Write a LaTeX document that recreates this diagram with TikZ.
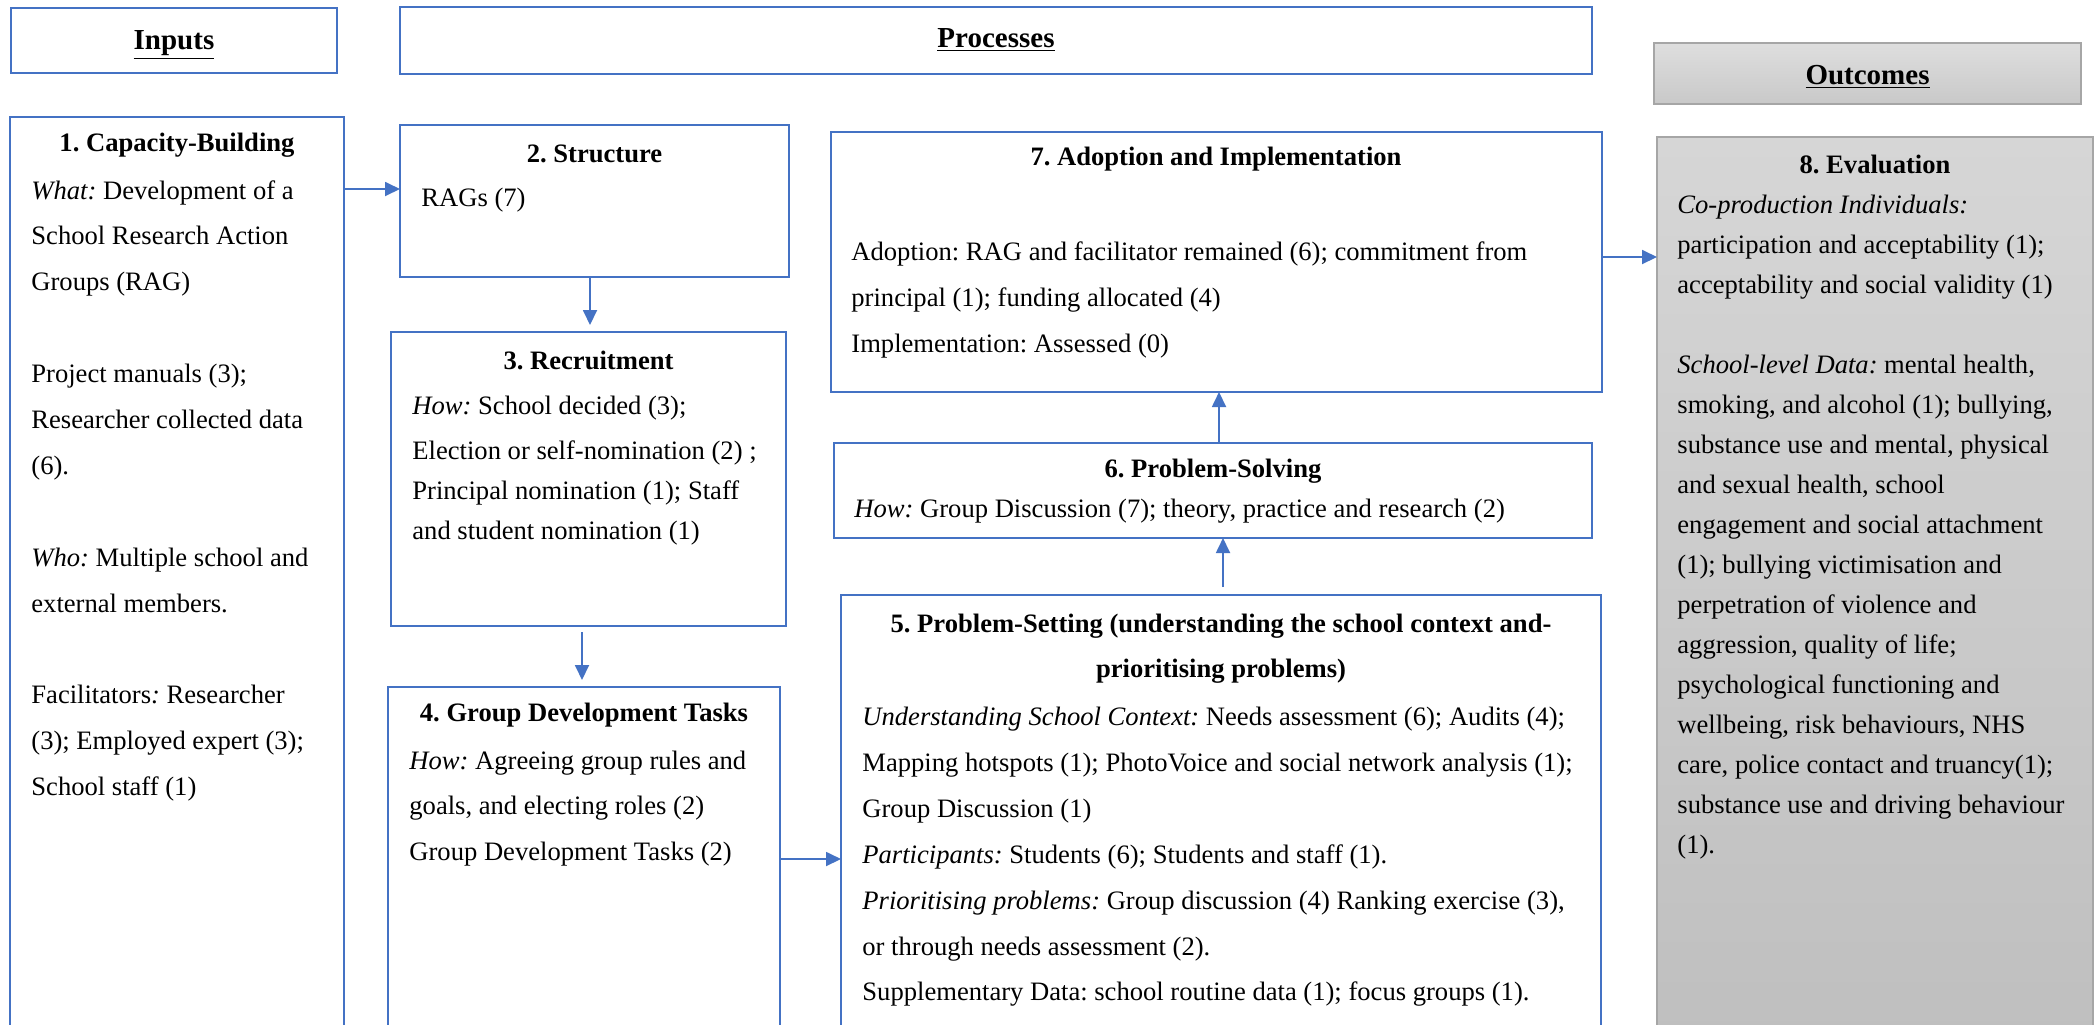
\documentclass[tikz,border=0pt]{standalone}
\usepackage{fontspec}
\setmainfont{Liberation Serif}
\usetikzlibrary{arrows.meta}
\frenchspacing
\definecolor{bblue}{HTML}{4472C4}
\definecolor{gborder}{HTML}{A6A6A6}
\definecolor{gtop}{HTML}{D6D6D6}
\definecolor{gbot}{HTML}{BFBFBF}
\newcommand\bxfont{\fontsize{13.3}{22.95}\selectfont}
\newcommand\gyfont{\fontsize{13.3}{20}\selectfont}
\newcommand\hdfont{\fontsize{14.5}{18}\selectfont}
\begin{document}
\begin{tikzpicture}[x=0.5pt,y=-0.5pt,
  bbox/.style={draw=bblue,line width=1.1pt,anchor=north west,inner sep=0pt,outer sep=0pt},
  gbox/.style={draw=gborder,line width=1pt,anchor=north west,inner sep=0pt,outer sep=0pt,top color=gtop,bottom color=gbot},
  hdr/.style={font=\hdfont\bfseries,anchor=base,inner sep=0pt},
  ttl/.style={font=\bxfont\bfseries,anchor=base,inner sep=0pt},
  oneline/.style={font=\bxfont,anchor=base west,inner sep=0pt},
  body/.style={font=\bxfont,anchor=north west,align=left,inner sep=0pt},
  arr/.style={draw=bblue,line width=0.9pt,-{Triangle[length=7.5pt,width=7pt]}}]
\useasboundingbox (0,0) rectangle (2096,1024);
\clip (0,0) rectangle (2096,1024);
\fill[white] (0,0) rectangle (2096,1024);

% header boxes
\node[bbox,minimum width=163pt,minimum height=32.5pt] (inputs) at (11,8) {};
\node[hdr] (inputsT) at (174,49) {\underline{Inputs}};
\node[bbox,minimum width=596pt,minimum height=33.5pt] (procs) at (400,7) {};
\node[hdr] (procsT) at (996,47) {\underline{Processes}};
\node[gbox,minimum width=213.5pt,minimum height=30.5pt,top color=gtop!80!white,bottom color=gbot!85!white] (outc) at (1654,43) {};
\node[hdr] (outcT) at (1867.5,84) {\underline{Outcomes}};

% box 1
\node[bbox,minimum width=167pt,minimum height=461.5pt] (b1) at (10,117) {};
\node[ttl] (b1T) at (177,151) {1. Capacity-Building};
\node[body] (b1B) at (31,166.5) {\strut\textit{What:} Development of a\\
\strut School Research Action\\
\strut Groups (RAG)\\
\strut\\
\strut Project manuals (3);\\
\strut Researcher collected data\\
\strut (6).\\
\strut\\
\strut\textit{Who:} Multiple school and\\
\strut external members.\\
\strut\\
\strut Facilitators\textit{:} Researcher\\
\strut (3); Employed expert (3);\\
\strut School staff (1)};

% box 2
\node[bbox,minimum width=194.5pt,minimum height=76pt] (b2) at (400,125) {};
\node[ttl] (b2T) at (594.5,162) {2. Structure};
\node[oneline] (b2B) at (421,206) {RAGs (7)};

% box 3
\node[bbox,minimum width=197.5pt,minimum height=147pt] (b3) at (391,332) {};
\node[ttl] (b3T) at (588.5,369) {3. Recruitment};
\node[body,font=\gyfont] (b3B) at (412,386) {\strut\textit{How:} School decided (3);\\[2.5pt]
\strut Election or self-nomination (2) ;\\
\strut Principal nomination (1); Staff\\
\strut and student nomination (1)};

% box 4
\node[bbox,minimum width=196pt,minimum height=176.5pt] (b4) at (388,687) {};
\node[ttl] (b4T) at (584,721) {4. Group Development Tasks};
\node[body] (b4B) at (409,736.5) {\strut\textit{How:} Agreeing group rules and\\
\strut goals, and electing roles (2)\\
\strut Group Development Tasks (2)};

% box 5
\node[bbox,minimum width=380pt,minimum height=222.5pt] (b5) at (841,595) {};
\node[font=\bxfont\bfseries,align=center,anchor=north,inner sep=0pt] (b5T) at (1221,599.5) {\strut 5. Problem-Setting (understanding the school context and-\\
\strut prioritising problems)};
\node[body] (b5B) at (862,693) {\strut\textit{Understanding School Context:} Needs assessment (6); Audits (4);\\
\strut Mapping hotspots (1); PhotoVoice and social network analysis (1);\\
\strut Group Discussion (1)\\
\strut\textit{Participants:} Students (6); Students and staff (1).\\
\strut\textit{Prioritising problems:} Group discussion (4) Ranking exercise (3),\\
\strut or through needs assessment (2).\\
\strut Supplementary Data: school routine data (1); focus groups (1).};

% box 6
\node[bbox,minimum width=379pt,minimum height=47.5pt] (b6) at (834,443) {};
\node[ttl] (b6T) at (1213,477) {6. Problem-Solving};
\node[oneline] (b6B) at (854,517) {\textit{How:} Group Discussion (7); theory, practice and research (2)};

% box 7
\node[bbox,minimum width=385.5pt,minimum height=130pt] (b7) at (831,132) {};
\node[ttl] (b7T) at (1216,165) {7. Adoption and Implementation};
\node[body] (b7B) at (851,228) {\strut Adoption: RAG and facilitator remained (6); commitment from\\
\strut principal (1); funding allocated (4)\\
\strut Implementation: Assessed (0)};

% box 8
\node[gbox,minimum width=218pt,minimum height=451.5pt] (b8) at (1657,137) {};
\node[ttl] (b8T) at (1875,173) {8. Evaluation};
\node[body,font=\gyfont] (b8B) at (1677,185) {\strut\textit{Co-production Individuals:}\\
\strut participation and acceptability (1);\\
\strut acceptability and social validity (1)\\
\strut\\
\strut\textit{School-level Data:} mental health,\\
\strut smoking, and alcohol (1); bullying,\\
\strut substance use and mental, physical\\
\strut and sexual health, school\\
\strut engagement and social attachment\\
\strut (1); bullying victimisation and\\
\strut perpetration of violence and\\
\strut aggression, quality of life;\\
\strut psychological functioning and\\
\strut wellbeing, risk behaviours, NHS\\
\strut care, police contact and truancy(1);\\
\strut substance use and driving behaviour\\
\strut (1).};

% connectors
\draw[arr] (b1.east |- 0,189) -- (b2.west |- 0,189);
\draw[arr,shorten >=3.5pt] (b2.south -| 590,0) -- (b3.north -| 590,0);
\draw[arr,shorten <=3pt,shorten >=3.5pt] (b3.south -| 582,0) -- (b4.north -| 582,0);
\draw[arr] (b4.east |- 0,859) -- (b5.west |- 0,859);
\draw[arr,shorten <=4pt] (b5.north -| 1223,0) -- (b6.south -| 1223,0);
\draw[arr] (b6.north -| 1219,0) -- (b7.south -| 1219,0);
\draw[arr] (b7.east |- 0,257) -- (b8.west |- 0,257);
\end{tikzpicture}
\end{document}
